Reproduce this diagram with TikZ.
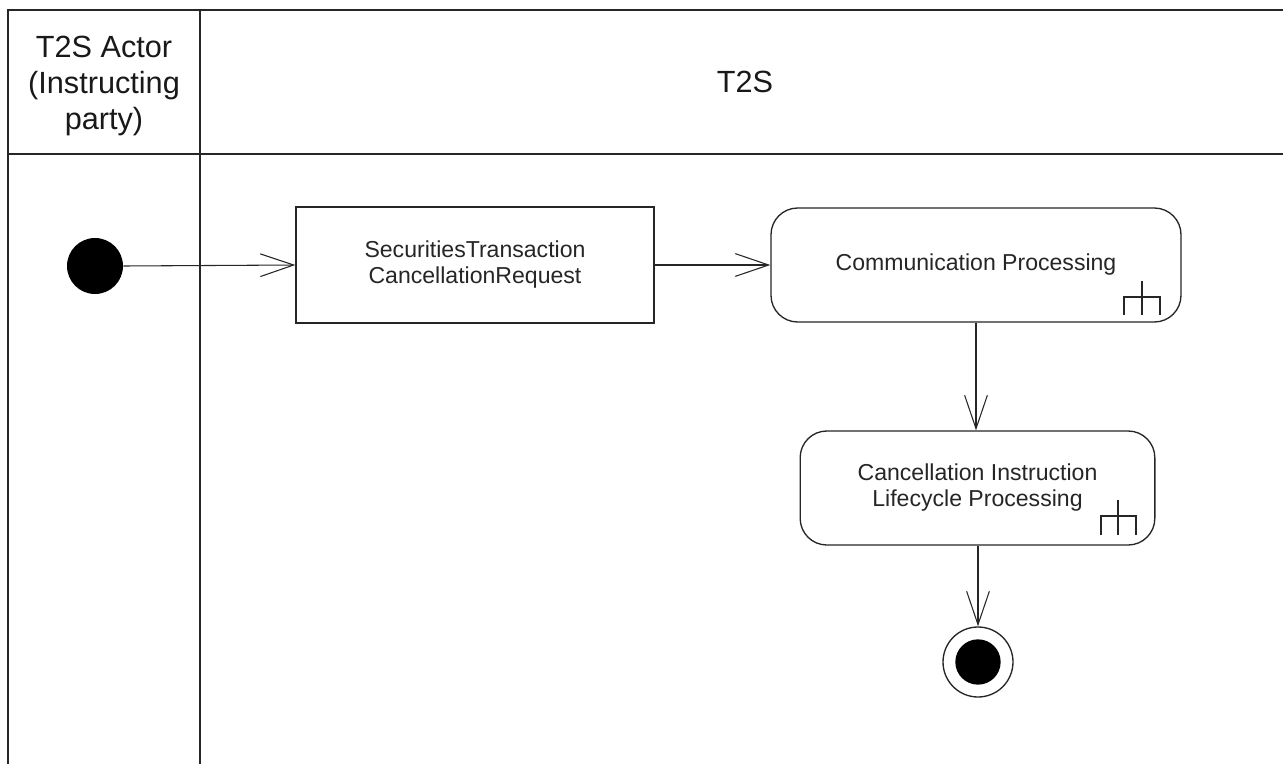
\documentclass[tikz,border=0pt]{standalone}
\usepackage{fontspec}
\setmainfont{Liberation Sans}
\usetikzlibrary{arrows.meta}
\begin{document}
\begin{tikzpicture}[x=0.75pt,y=-0.75pt,
  frameline/.style={line width=1.5pt,draw=black!85},
  actbox/.style={draw=black!85,line width=1pt,align=center,inner sep=0pt,
    font=\fontsize{17.3}{19.5}\selectfont,text=black!85},
  roundact/.style={actbox,rounded corners=20pt},
  headtext/.style={align=center,font=\fontsize{23}{27}\selectfont,text=black!90},
  flow/.style={draw=black!85,line width=0.8pt,-{Straight Barb[length=25pt,width=17pt,line width=0.8pt]}},
  rake/.style={draw=black!85,line width=1pt}]
\useasboundingbox (0,0) rectangle (1283,764);
\fill[white] (0,0) rectangle (1283,764);
% swimlane frame
\draw[frameline] (8,764) -- (8,10) -- (1283,10);
\draw[frameline] (200,10) -- (200,764);
\draw[frameline] (8,154) -- (1283,154);
\node[headtext] (lane1) at (104,86) {T2S Actor\\(Instructing\\party)};
\node[headtext] (lane2) at (745,82) {T2S};
% initial node
\node[circle,fill=black,minimum size=42pt,inner sep=0pt] (start) at (95,266) {};
% activities
\node[actbox,minimum width=268.5pt,minimum height=87pt] (req) at (475,265)
  {SecuritiesTransaction\\CancellationRequest};
\node[roundact,minimum width=307.5pt,minimum height=85.5pt] (comm) at (976,265)
  {Communication Processing};
\node[roundact,minimum width=266pt,minimum height=85.5pt] (canc) at (977.5,488)
  {Cancellation Instruction\\Lifecycle Processing};
% final node
\node[circle,draw=black!85,line width=1pt,minimum size=52.5pt,inner sep=0pt] (final) at (978,662) {};
\node[circle,fill=black,minimum size=34pt,inner sep=0pt] (finaldot) at (final.center) {};
% rakes
\draw[rake] (1142,281) -- (1142,315) (1124,315) -- (1124,297) -- (1160,297) -- (1160,315);
\draw[rake] (1118,500) -- (1118,535) (1101,535) -- (1101,516) -- (1136,516) -- (1136,535);
% flows
\draw[flow] (start.east) -- (req.west);
\draw[flow] (req.east) -- (comm.west);
\draw[flow] (comm.south -| canc.north) ++(-1.5,0) coordinate (c1) -- (canc.north -| c1);
\draw[flow] (canc.south -| final.north) -- (final.north);
\end{tikzpicture}
\end{document}
